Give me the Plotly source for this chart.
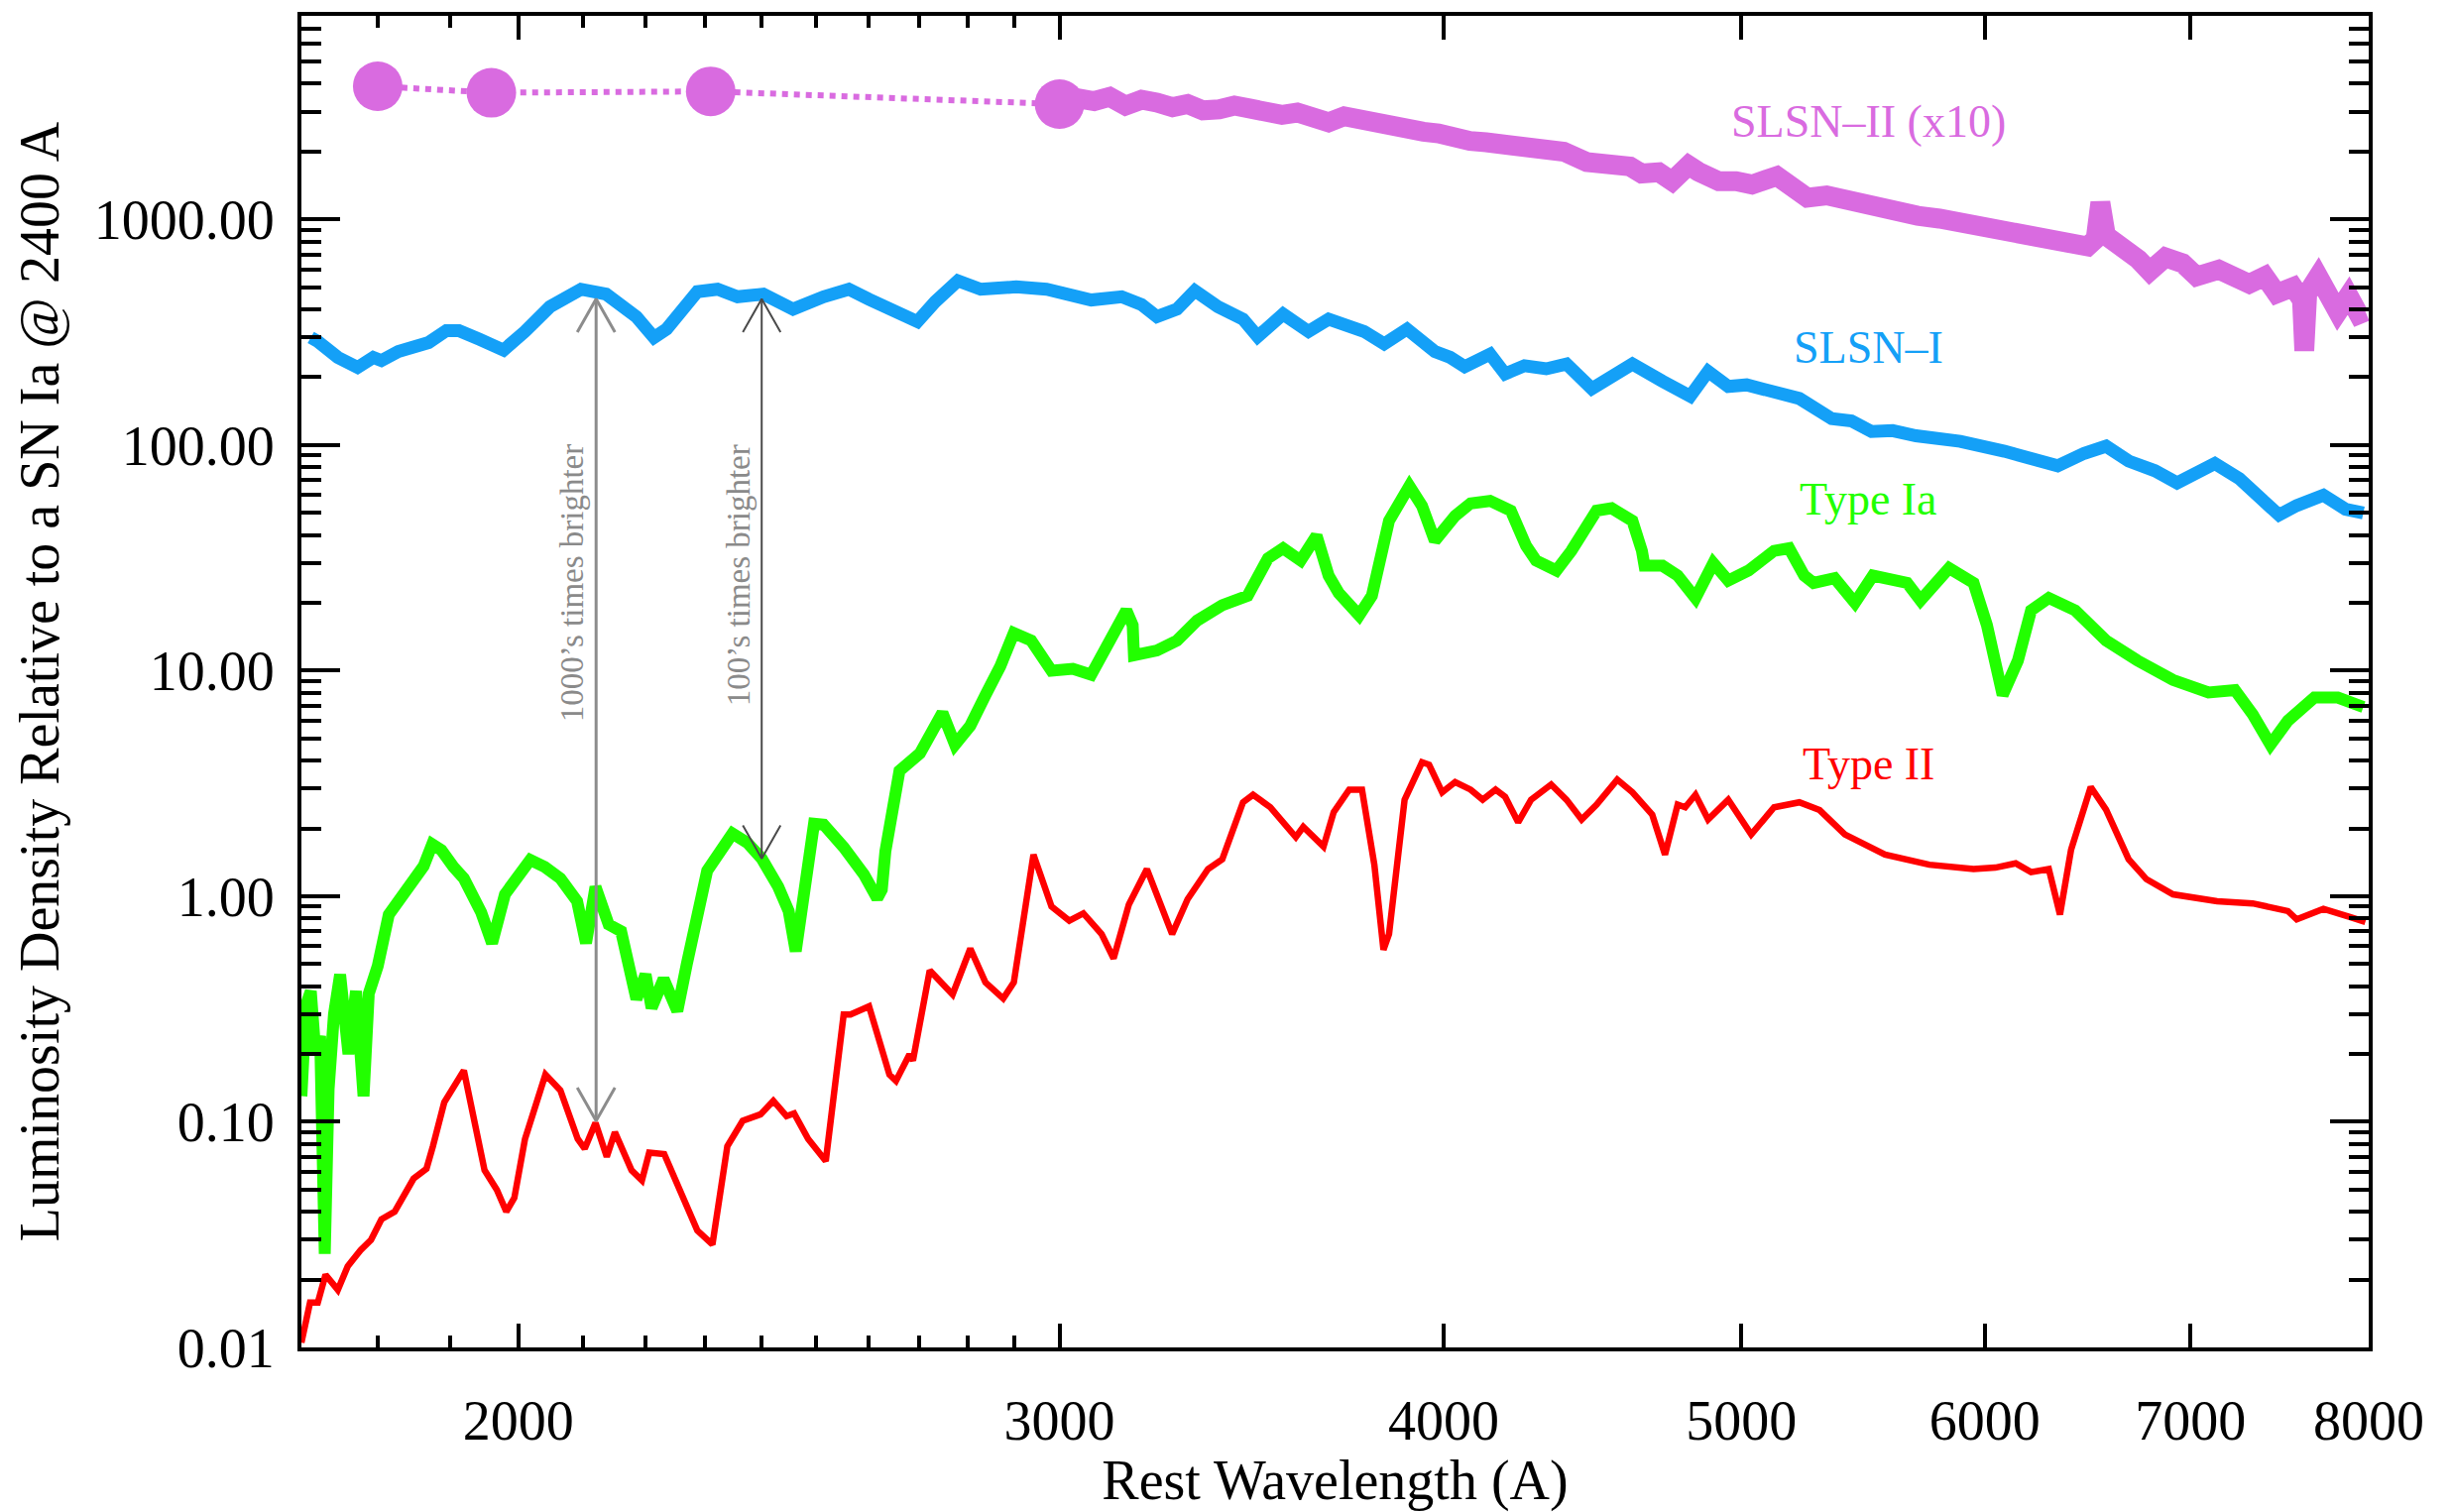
import numpy as np
import plotly.graph_objects as go

# ---------------- data ----------------
# SLSN-II (scaled x10): UV photometry points and optical spectrum
slsn2_phot_wave = [1800, 1960, 2310, 3000]
slsn2_phot_lum = [3900, 3650, 3700, 3250]

slsn2_wave = [3000, 3040, 3079, 3115, 3152, 3190, 3227, 3265, 3302, 3340, 3381, 3420, 3462,
              3500, 3544, 3585, 3629, 3670, 3713, 3760, 3802, 3850, 3892, 3940, 3985, 4030,
              4080, 4130, 4176, 4225, 4275, 4325, 4377, 4453, 4500, 4546, 4600, 4640, 4700,
              4747, 4806, 4842, 4916, 4980, 5040, 5135, 5200, 5253, 5330, 5430, 5521, 5600,
              5706, 5800, 5948, 6050, 6199, 6300, 6409, 6481, 6520, 6543, 6570, 6650, 6733,
              6789, 6870, 6959, 7032, 7150, 7315, 7400, 7467, 7560, 7610, 7623, 7640, 7703,
              7779, 7817, 7880, 7940, 7980]
slsn2_lum = [3250, 3450, 3350, 3500, 3200, 3400, 3300, 3150, 3250, 3050, 3080, 3200, 3100,
             2950, 2910, 2980, 2780, 2700, 2870, 2750, 2650, 2560, 2490, 2450, 2410, 2300,
             2230, 2200, 2160, 2060, 2090, 2010, 2000, 1800, 1760, 1690, 1720, 1600, 1620,
             1480, 1740, 1630, 1480, 1480, 1430, 1560, 1330, 1250, 1280, 1200, 1130, 1100,
             1040, 1010, 940, 900, 826, 830, 790, 760, 820, 1190, 850, 760, 665,
             590, 680, 640, 560, 600, 519, 560, 470, 502, 440, 262, 470, 560,
             440, 390, 460, 380, 391]

# SLSN-I
slsn1_wave = [1712, 1721, 1747, 1773, 1794, 1805, 1828, 1870, 1895, 1913, 1942, 1978, 2010,
              2048, 2096, 2136, 2185, 2214, 2235, 2287, 2322, 2357, 2403, 2457, 2514, 2562,
              2601, 2631, 2697, 2733, 2780, 2828, 2904, 2971, 3072, 3143, 3190, 3227, 3276,
              3320, 3378, 3442, 3480, 3547, 3615, 3670, 3720, 3769, 3826, 3892, 3974, 4020,
              4064, 4142, 4189, 4250, 4320, 4386, 4470, 4540, 4608, 4713, 4812, 4877, 4951,
              5020, 5085, 5150, 5222, 5350, 5430, 5512, 5600, 5699, 5891, 6089, 6212, 6337,
              6464, 6571, 6683, 6816, 6930, 7022, 7129, 7261, 7357, 7480, 7580, 7733, 7862,
              7968]
slsn1_lum = [300, 288, 245, 221, 245, 237, 260, 285, 322, 322, 295, 264, 319,
             411, 491, 467, 371, 300, 327, 479, 491, 455, 467, 401, 455, 491,
             443, 411, 353, 432, 535, 491, 503, 491, 440, 455, 420, 371, 401,
             484, 411, 362, 303, 381, 319, 362, 340, 319, 281, 327, 260, 245,
             223, 253, 207, 225, 218, 229, 178, 200, 229, 192, 165, 212, 182,
             185, 175, 168, 161, 131, 128, 115, 116, 110, 104, 94, 87, 81,
             92, 99, 85, 77, 68, 75, 83, 71, 61, 49, 54, 60, 52,
             50]

# Type Ia
snia_wave = [1700, 1706, 1712, 1718, 1724, 1730, 1735, 1742, 1750, 1761, 1771, 1781, 1788,
             1800, 1815, 1840, 1863, 1875, 1888, 1905, 1920, 1945, 1961, 1980, 2018, 2040,
             2064, 2090, 2104, 2119, 2140, 2160, 2185, 2200, 2210, 2230, 2253, 2269, 2304,
             2348, 2374, 2400, 2430, 2449, 2462, 2496, 2514, 2552, 2591, 2617, 2626, 2633,
             2661, 2702, 2748, 2774, 2806, 2838, 2870, 2899, 2937, 2982, 3030, 3072, 3119,
             3154, 3169, 3172, 3227, 3276, 3326, 3389, 3454, 3507, 3547, 3594, 3637, 3670,
             3698, 3755, 3791, 3840, 3899, 3936, 3974, 4035, 4082, 4142, 4207, 4255, 4287,
             4353, 4402, 4486, 4537, 4608, 4641, 4650, 4713, 4767, 4831, 4896, 4951, 5027,
             5124, 5182, 5241, 5278, 5362, 5444, 5518, 5661, 5718, 5842, 5950, 6010, 6081,
             6151, 6212, 6295, 6421, 6571, 6727, 6909, 7095, 7237, 7334, 7432, 7530, 7681,
             7817, 7968]
snia_lum = [0.13, 0.33, 0.38, 0.20, 0.24, 0.026, 0.14, 0.30, 0.45, 0.20, 0.38, 0.13, 0.37,
            0.49, 0.83, 1.05, 1.36, 1.70, 1.60, 1.35, 1.20, 0.85, 0.62, 1.02, 1.45, 1.35,
            1.20, 0.95, 0.62, 1.10, 0.75, 0.70, 0.35, 0.45, 0.32, 0.43, 0.31, 0.50, 1.30,
            1.90, 1.73, 1.47, 1.10, 0.86, 0.57, 2.10, 2.08, 1.65, 1.25, 0.98, 1.07, 1.58,
            3.6, 4.3, 6.5, 4.7, 5.7, 7.8, 10.5, 14.7, 13.6, 10.0, 10.2, 9.6, 13.6,
            18.5, 15.9, 11.7, 12.3, 13.6, 16.7, 19.5, 21.5, 31.5, 34.9, 30.8, 39.7, 26.4,
            22.1, 17.6, 21.5, 46.2, 65.9, 53.8, 37.7, 48.6, 55.2, 56.6, 51.2, 35.8, 30.8,
            27.8, 34.0, 51.2, 52.5, 46.2, 34.0, 29.2, 29.2, 26.4, 21.0, 30.0, 25.1, 27.8,
            34.0, 34.9, 26.4, 24.5, 25.7, 20.0, 26.4, 24.5, 20.5, 28.5, 24.5, 15.9, 7.8,
            11.1, 18.5, 21.0, 18.5, 13.6, 11.1, 9.1, 8.0, 8.2, 6.4, 4.7, 6.0, 7.6,
            7.6, 6.9]

# Type II
snii_wave = [1700, 1711, 1721, 1731, 1747, 1760, 1777, 1791, 1805, 1823, 1849, 1867, 1876,
             1892, 1920, 1950, 1968, 1982, 1994, 2010, 2041, 2064, 2091, 2102, 2119, 2137,
             2150, 2177, 2194, 2206, 2231, 2261, 2287, 2313, 2339, 2366, 2398, 2421, 2445,
             2459, 2485, 2518, 2552, 2565, 2601, 2641, 2654, 2681, 2688, 2722, 2769, 2806,
             2838, 2876, 2899, 2942, 2982, 3022, 3054, 3096, 3124, 3160, 3203, 3264, 3302,
             3353, 3389, 3442, 3468, 3513, 3547, 3581, 3601, 3628, 3656, 3684, 3727, 3763,
             3798, 3824, 3840, 3885, 3936, 3957, 3996, 4035, 4082, 4119, 4159, 4189, 4230,
             4271, 4336, 4386, 4436, 4486, 4556, 4608, 4677, 4722, 4767, 4794, 4831, 4877,
             4951, 5037, 5124, 5222, 5302, 5403, 5568, 5756, 5950, 6048, 6141, 6212, 6295,
             6348, 6401, 6496, 6571, 6683, 6773, 6909, 7141, 7334, 7530, 7580, 7733, 7888,
             7980]
snii_lum = [0.0105, 0.0158, 0.0158, 0.021, 0.018, 0.0229, 0.027, 0.030, 0.037, 0.040, 0.056, 0.062, 0.078,
            0.122, 0.169, 0.061, 0.050, 0.040, 0.046, 0.084, 0.162, 0.138, 0.084, 0.076, 0.099, 0.070,
            0.090, 0.061, 0.055, 0.073, 0.072, 0.048, 0.033, 0.0286, 0.078, 0.101, 0.108, 0.124, 0.106,
            0.109, 0.084, 0.067, 0.299, 0.299, 0.325, 0.162, 0.152, 0.199, 0.187, 0.469, 0.367, 0.586,
            0.415, 0.352, 0.415, 1.53, 0.90, 0.78, 0.84, 0.68, 0.53, 0.92, 1.32, 0.68, 0.97,
            1.32, 1.46, 2.61, 2.82, 2.48, 2.13, 1.83, 2.03, 1.83, 1.66, 2.36, 2.97, 2.97,
            1.38, 0.58, 0.68, 2.68, 3.93, 3.83, 2.89, 3.21, 2.97, 2.68, 2.97, 2.76, 2.13,
            2.68, 3.13, 2.68, 2.19, 2.55, 3.29, 2.89, 2.30, 1.53, 2.55, 2.48, 2.82, 2.19,
            2.68, 1.88, 2.48, 2.61, 2.41, 1.88, 1.53, 1.38, 1.32, 1.34, 1.40, 1.28, 1.32,
            0.83, 1.61, 3.05, 2.42, 1.46, 1.19, 1.02, 0.95, 0.93, 0.86, 0.79, 0.88, 0.81,
            0.77]

# Brightness-ratio arrows: wavelength, lower and upper ends
arrow_wave = [2120, 2400]
arrow_low = [0.101, 1.47]
arrow_high = [445, 445]
arrow_text = ["1000\u2019s times brighter", "100\u2019s times brighter"]
arrow_text_pos = [(2082, 24.4), (2359, 26.5)]
arrow_colors = ["#8c8c8c", "#4a4a4a"]
arrow_widths = [3, 2]

# Series labels
label_text = ["SLSN\u2013II (x10)", "SLSN\u2013I", "Type Ia", "Type II"]
label_wave = [5500, 5500, 5500, 5500]
label_lum = [2717, 272, 57.5, 3.87]

x_ticks = [2000, 3000, 4000, 5000, 6000, 7000, 8000]
x_minor = [1800, 1900, 2100, 2200, 2300, 2400, 2500, 2600, 2700, 2800, 2900]
y_ticks = [0.01, 0.1, 1, 10, 100, 1000]
y_ticktext = ["0.01", "0.10", "1.00", "10.00", "100.00", "1000.00"]

X_RANGE = (1700, 8000)
Y_RANGE = (0.01, 8000)

MAGENTA = "#d96be0"
BLUE = "#14a0f7"
GREEN = "#22ff00"
RED = "#ff0000"
FONT = "Liberation Serif"

# ---------------- figure ----------------
fig = go.Figure()

fig.add_trace(go.Scatter(x=slsn2_phot_wave, y=slsn2_phot_lum, mode="lines",
                         line=dict(color=MAGENTA, width=6, dash="dot"), hoverinfo="skip"))
fig.add_trace(go.Scatter(x=slsn2_wave, y=slsn2_lum, mode="lines",
                         line=dict(color=MAGENTA, width=20)))
fig.add_trace(go.Scatter(x=slsn2_phot_wave, y=slsn2_phot_lum, mode="markers",
                         marker=dict(color=MAGENTA, size=50, line=dict(width=0))))
fig.add_trace(go.Scatter(x=slsn1_wave, y=slsn1_lum, mode="lines",
                         line=dict(color=BLUE, width=13)))
fig.add_trace(go.Scatter(x=snia_wave, y=snia_lum, mode="lines",
                         line=dict(color=GREEN, width=12)))
fig.add_trace(go.Scatter(x=snii_wave, y=snii_lum, mode="lines",
                         line=dict(color=RED, width=6.5)))

# arrows with open "V" heads at both ends
px_per_dec_x = 3099.0
px_per_dec_y = 231.1
fx = 10 ** (19 / px_per_dec_x)
fy = 10 ** (34 / px_per_dec_y)
for w, lo, hi, col, lw in zip(arrow_wave, arrow_low, arrow_high, arrow_colors, arrow_widths):
    xs = [w, w, None, w * fx, w, w / fx, None, w * fx, w, w / fx]
    ys = [lo, hi, None, hi / fy, hi, hi / fy, None, lo * fy, lo, lo * fy]
    fig.add_trace(go.Scatter(x=xs, y=ys, mode="lines",
                             line=dict(color=col, width=lw), hoverinfo="skip"))

annotations = []
for t, w, v, c in zip(label_text, label_wave, label_lum, [MAGENTA, BLUE, GREEN, RED]):
    annotations.append(dict(x=np.log10(w), y=np.log10(v), xref="x", yref="y", text=t,
                            showarrow=False, xanchor="center", yanchor="middle",
                            font=dict(family=FONT, size=46, color=c)))
for t, (w, v) in zip(arrow_text, arrow_text_pos):
    annotations.append(dict(x=np.log10(w), y=np.log10(v), xref="x", yref="y", text=t,
                            showarrow=False, textangle=-90, xanchor="center", yanchor="middle",
                            font=dict(family=FONT, size=33, color="#8a8a8a")))

y_minor = [k * 10.0 ** d for d in range(-2, 4) for k in range(2, 10) if k * 10.0 ** d < 8000]

axis_common = dict(
    showline=True, linewidth=4, linecolor="black", mirror="allticks",
    ticks="inside", tickcolor="black", tickwidth=4,
    showgrid=False, zeroline=False,
    tickfont=dict(family=FONT, size=56, color="black"),
)

fig.update_layout(
    width=2473, height=1525,
    margin=dict(l=304, r=84, t=13, b=147),
    paper_bgcolor="white", plot_bgcolor="white",
    showlegend=False,
    font=dict(family=FONT, color="black"),
    annotations=annotations,
    xaxis=dict(
        type="log", range=[np.log10(X_RANGE[0]), np.log10(X_RANGE[1])],
        tickmode="array", tickvals=x_ticks, ticktext=[str(v) for v in x_ticks],
        ticklen=24, ticklabelstandoff=22,
        minor=dict(tickmode="array", tickvals=x_minor, ticks="inside", ticklen=12,
                   tickwidth=4, tickcolor="black", showgrid=False),
        title=dict(text="Rest Wavelength (A)", font=dict(family=FONT, size=56, color="black"),
                   standoff=10),
        **axis_common,
    ),
    yaxis=dict(
        type="log", range=[np.log10(Y_RANGE[0]), np.log10(Y_RANGE[1])],
        tickmode="array", tickvals=y_ticks, ticktext=y_ticktext,
        ticklen=39, ticklabelstandoff=12,
        minor=dict(tickmode="array", tickvals=y_minor, ticks="inside", ticklen=20,
                   tickwidth=4, tickcolor="black", showgrid=False),
        title=dict(text="Luminosity Density Relative to a SN Ia @ 2400 A",
                   font=dict(family=FONT, size=56, color="black"), standoff=18),
        **axis_common,
    ),
)

fig.write_html("out.html")
